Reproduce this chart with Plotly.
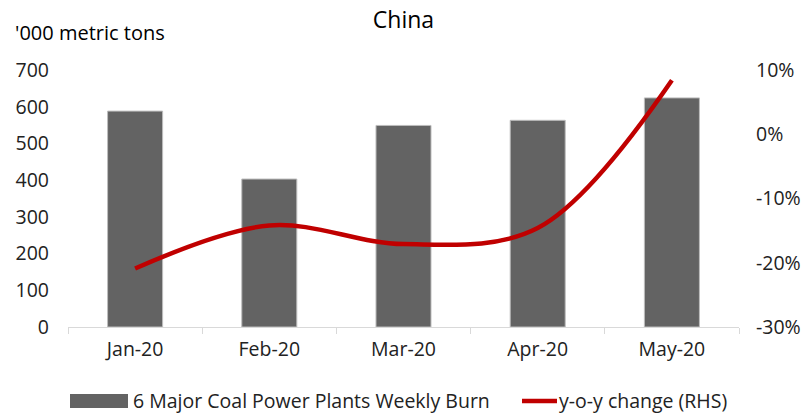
import plotly.graph_objects as go

months = ["Jan-20", "Feb-20", "Mar-20", "Apr-20", "May-20"]
burn = [588, 403, 549, 563, 624]
yoy = [-0.209, -0.142, -0.171, -0.146, 0.084]
yoy_ticks = [-0.3, -0.2, -0.1, 0.0, 0.1]
yoy_tick_labels = ["-30%", "-20%", "-10%", "0%", "10%"]

bar_name = "6 Major Coal Power Plants Weekly Burn"
line_name = "y-o-y change (RHS)"

FONT = "Open Sans"
BAR_COLOR = "#636363"
LINE_COLOR = "#C00000"

# plot-area geometry (pixels)
W, H = 810, 416
L, R, T, B = 68, 71, 70, 89
PW, PH = W - L - R, H - T - B

def px(x):
    return (x - L) / PW

def py(y):
    return (H - B - y) / PH

fig = go.Figure()
fig.add_trace(go.Bar(
    x=months, y=burn, name=bar_name,
    marker=dict(color=BAR_COLOR, line=dict(color="#BDBDBD", width=1)),
    showlegend=False,
))
fig.add_trace(go.Scatter(
    x=months, y=yoy, name=line_name, yaxis="y2",
    mode="lines", line=dict(color=LINE_COLOR, width=4.5, shape="spline", smoothing=1.0),
    showlegend=False,
))

fig.update_layout(
    width=W, height=H,
    margin=dict(l=L, r=R, t=T, b=B, autoexpand=False),
    paper_bgcolor="white", plot_bgcolor="white",
    bargap=0.59,
    font=dict(family=FONT, size=19.5, color="#222222"),
    title=dict(text="China", x=0.5, xref="paper", xanchor="center", y=1 - 20 / H, yanchor="middle",
               font=dict(family=FONT, size=23, color="#000000")),
    xaxis=dict(
        showline=True, linecolor="#D9D9D9", linewidth=1.3,
        ticks="outside", ticklen=6, tickcolor="#D9D9D9", tickson="boundaries",
        showgrid=False, ticklabelstandoff=4,
    ),
    yaxis=dict(
        range=[0, 700], dtick=100, showgrid=False, showline=False, zeroline=False,
        ticks="", ticklabelstandoff=18,
    ),
    yaxis2=dict(
        range=[-0.3, 0.1], tickvals=yoy_ticks, ticktext=yoy_tick_labels,
        overlaying="y", side="right",
        showgrid=False, showline=False, zeroline=False, ticks="", ticklabelstandoff=16,
    ),
)

fig.add_annotation(text="'000 metric tons", x=px(13), xref="paper", xanchor="left",
                   y=py(32), yref="paper", yanchor="middle", showarrow=False,
                   font=dict(family=FONT, size=20, color="#000000"))

# manual legend
legend_y = 401
fig.add_shape(type="rect", xref="paper", yref="paper",
              x0=px(70), x1=px(128), y0=py(legend_y - 7), y1=py(legend_y + 7),
              fillcolor=BAR_COLOR, line=dict(width=0))
fig.add_shape(type="line", xref="paper", yref="paper",
              x0=px(522), x1=px(557), y0=py(legend_y), y1=py(legend_y),
              line=dict(color=LINE_COLOR, width=4.5))
fig.add_annotation(text=bar_name, x=px(131), xref="paper", xanchor="left",
                   y=py(legend_y), yref="paper", yanchor="middle", showarrow=False,
                   font=dict(family=FONT, size=19.5, color="#222222"))
fig.add_annotation(text=line_name, x=px(557), xref="paper", xanchor="left",
                   y=py(legend_y), yref="paper", yanchor="middle", showarrow=False,
                   font=dict(family=FONT, size=19.5, color="#222222"))

fig.write_html("out.html")
